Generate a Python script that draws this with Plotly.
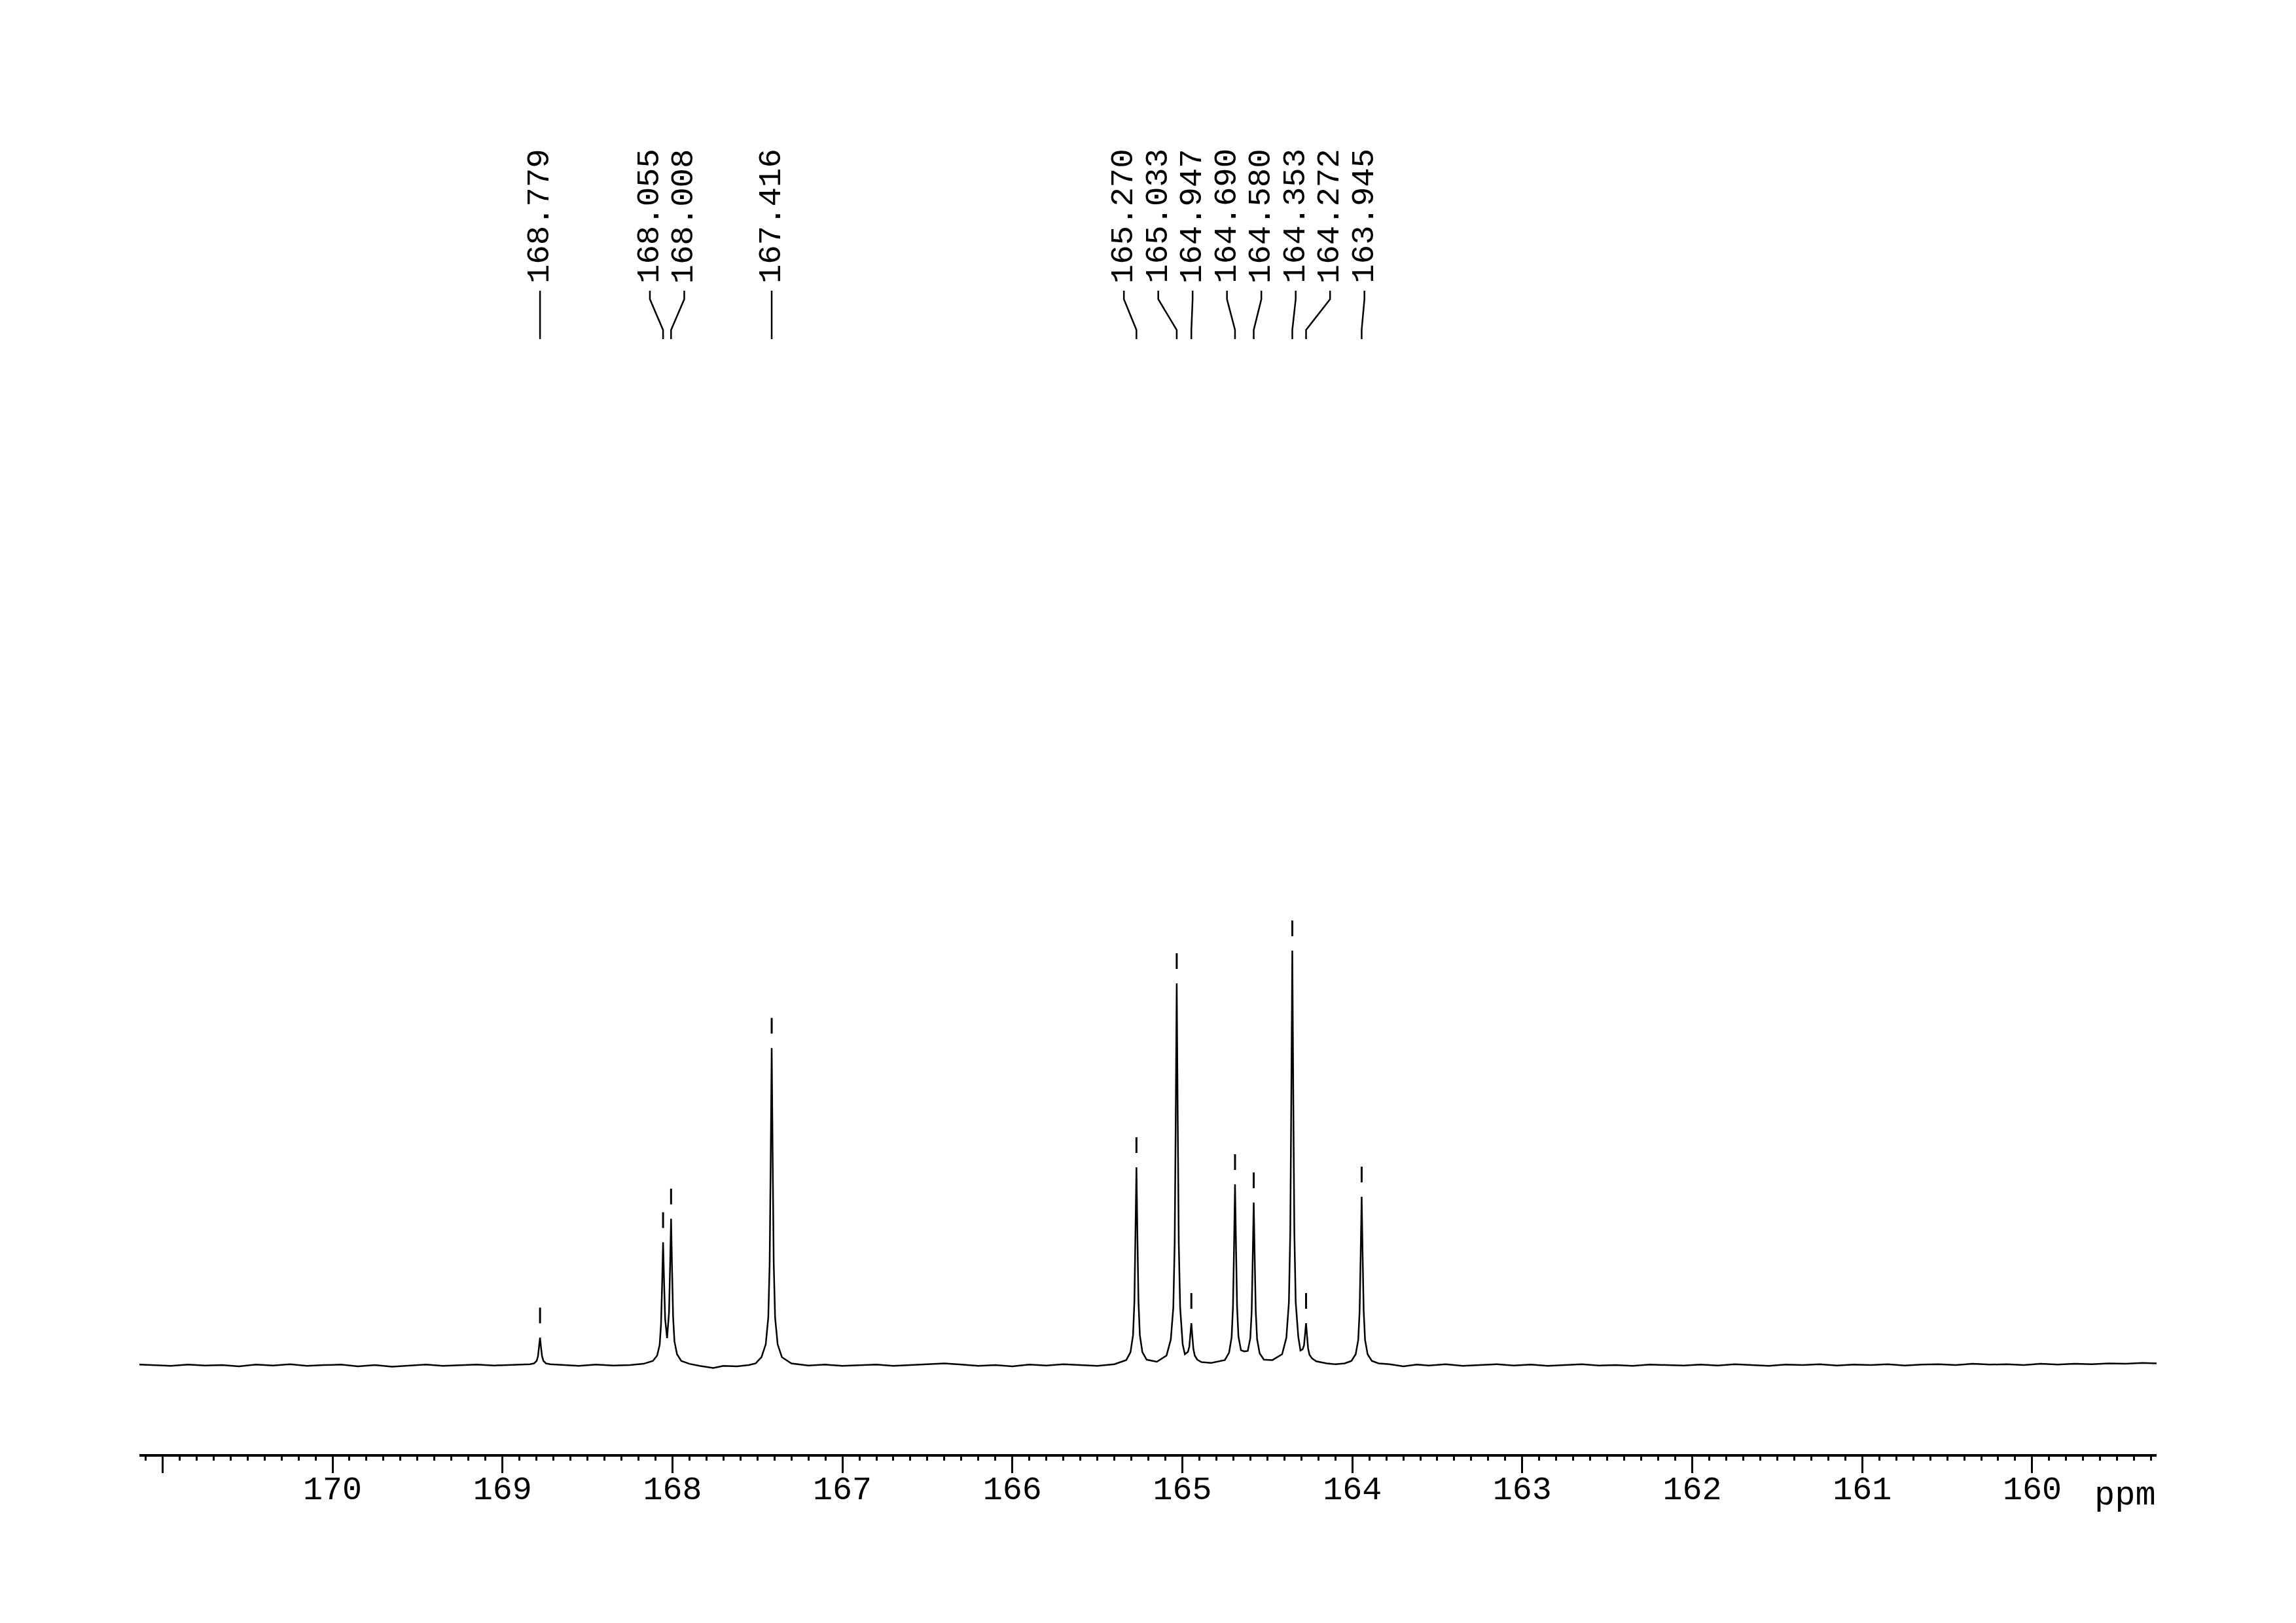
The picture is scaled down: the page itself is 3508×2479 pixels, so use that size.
import plotly.graph_objects as go

# ---------------- data ----------------
peak_ppm = [168.779, 168.055, 168.008, 167.416, 165.270, 165.033,
            164.947, 164.690, 164.580, 164.353, 164.272, 163.945]
peak_height = [6.6, 29.6, 35.3, 76.5, 47.7, 92.1,
               10.1, 43.6, 39.2, 100.0, 10.1, 40.6]

axis_tick_values = [160, 161, 162, 163, 164, 165, 166, 167, 168, 169, 170, 171]
axis_tick_labels = ["160", "161", "162", "163", "164", "165",
                    "166", "167", "168", "169", "170", ""]
axis_unit = "ppm"

trace_ppm = [
    171.136, 171.05, 170.95, 170.85, 170.75, 170.65, 170.55, 170.45, 170.35, 170.25,
    170.15, 170.05, 169.95, 169.85, 169.75, 169.65, 169.55, 169.45, 169.35, 169.25,
    169.15, 169.05, 168.95, 168.88,
    168.839, 168.814, 168.799, 168.791, 168.785, 168.779, 168.773, 168.767, 168.759, 168.744, 168.719,
    168.65, 168.55, 168.45, 168.35, 168.25, 168.17,
    168.115, 168.090, 168.075, 168.067, 168.061, 168.055, 168.049, 168.043, 168.0315,
    168.020, 168.014, 168.008, 168.002, 167.996, 167.988, 167.973, 167.948,
    167.90, 167.84, 167.76, 167.70, 167.62, 167.55, 167.51,
    167.476, 167.451, 167.436, 167.428, 167.422, 167.416, 167.410, 167.404, 167.396, 167.381, 167.356,
    167.30, 167.20, 167.10, 167.00, 166.90, 166.80, 166.70, 166.60, 166.50, 166.40,
    166.30, 166.20, 166.10, 166.00, 165.90, 165.80, 165.70, 165.60, 165.50, 165.40,
    165.330, 165.305, 165.290, 165.282, 165.276, 165.270, 165.264, 165.258, 165.250, 165.235, 165.210, 165.150,
    165.093, 165.068, 165.053, 165.045, 165.039, 165.033, 165.027, 165.021, 165.013, 164.998, 164.985,
    164.967, 164.959, 164.953, 164.947, 164.941, 164.935, 164.927, 164.912, 164.887, 164.83,
    164.750, 164.725, 164.710, 164.702, 164.696, 164.690, 164.684, 164.678, 164.670, 164.655, 164.635,
    164.615, 164.600, 164.592, 164.586, 164.580, 164.574, 164.568, 164.560, 164.545, 164.520, 164.470,
    164.413, 164.388, 164.373, 164.365, 164.359, 164.353, 164.347, 164.341, 164.333, 164.318, 164.305,
    164.292, 164.284, 164.278, 164.272, 164.266, 164.260, 164.252, 164.237, 164.212, 164.150, 164.100,
    164.045, 164.005, 163.980, 163.965, 163.957, 163.951, 163.945, 163.939, 163.933, 163.925, 163.910,
    163.885, 163.845,
    163.78, 163.70, 163.62, 163.55, 163.45, 163.35, 163.25, 163.15, 163.05, 162.95,
    162.85, 162.75, 162.65, 162.55, 162.45, 162.35, 162.25, 162.15, 162.05, 161.95,
    161.85, 161.75, 161.65, 161.55, 161.45, 161.35, 161.25, 161.15, 161.05, 160.95,
    160.85, 160.75, 160.65, 160.55, 160.45, 160.35, 160.25, 160.15, 160.05, 159.95,
    159.85, 159.75, 159.65, 159.55, 159.45, 159.35, 159.268,
]
trace_int = [
    0.1, 0.0, -0.2, 0.1, -0.1, 0.0, -0.3, 0.1, -0.1, 0.2,
    -0.2, 0.0, 0.1, -0.3, 0.0, -0.4, -0.1, 0.1, -0.2, 0.0,
    0.1, -0.1, 0.0, 0.1,
    0.2, 0.4, 1.0, 2.1, 4.2, 6.6, 4.2, 2.1, 1.0, 0.4, 0.2,
    0.0, -0.2, 0.1, -0.1, 0.0, 0.3,
    1.0, 2.3, 4.9, 9.9, 19.0, 29.6, 19.9, 11.2, 6.5,
    12.7, 23.4, 35.3, 22.7, 11.6, 5.7, 2.6, 1.0,
    0.3, -0.2, -0.7, -0.2, -0.3, 0.0, 0.4,
    1.9, 5.0, 11.5, 24.5, 49.0, 76.5, 49.0, 24.5, 11.5, 5.0, 1.9,
    0.4, -0.1, 0.1, -0.2, 0.0, 0.1, -0.2, 0.0, 0.2, 0.4,
    0.1, -0.2, 0.0, -0.3, 0.1, -0.1, 0.2, 0.0, -0.2, 0.2,
    1.2, 3.1, 7.2, 15.3, 30.5, 47.7, 30.5, 15.3, 7.2, 3.1, 1.3, 0.8,
    2.3, 6.1, 13.9, 29.5, 59.0, 92.1, 59.0, 29.6, 14.0, 5.0, 2.6,
    3.2, 4.4, 7.1, 10.1, 6.9, 3.9, 2.3, 1.3, 0.7, 0.5,
    1.2, 3.0, 6.7, 14.1, 28.0, 43.6, 28.1, 14.2, 6.9, 3.6, 3.3,
    3.4, 6.5, 13.0, 25.5, 39.2, 25.4, 12.9, 6.2, 2.8, 1.3, 1.2,
    2.6, 6.6, 15.1, 32.0, 64.0, 100.0, 64.1, 32.1, 15.2, 6.9, 3.5,
    3.8, 4.8, 7.3, 10.1, 6.9, 4.0, 2.5, 1.6, 0.9, 0.4, 0.2,
    0.4, 1.0, 2.6, 6.1, 13.0, 26.0, 40.6, 26.0, 13.0, 6.1, 2.6,
    1.0, 0.4,
    0.2, -0.3, 0.1, -0.1, 0.2, -0.2, 0.0, 0.2, -0.1, 0.1,
    -0.2, 0.0, 0.2, -0.1, 0.0, -0.2, 0.1, 0.0, -0.1, 0.1,
    -0.1, 0.2, 0.0, -0.2, 0.1, 0.0, 0.2, -0.1, 0.1, 0.0,
    0.2, -0.1, 0.1, 0.2, 0.0, 0.3, 0.1, 0.2, 0.0, 0.3,
    0.1, 0.3, 0.2, 0.4, 0.3, 0.5, 0.4,
]

# ---------------- layout geometry (page pixels) ----------------
BODY = 8                      # default page margin around the plot div
PAGE_W, PAGE_H = 3508, 2479
FIG_W, FIG_H = PAGE_W - BODY, PAGE_H - BODY
PLOT_LEFT, PLOT_RIGHT = 213, 3295     # page columns of the axis ends
PLOT_TOP, PLOT_BOTTOM = BODY, 2221    # page rows of the plot area
ML = PLOT_LEFT - BODY
MR = (BODY + FIG_W) - PLOT_RIGHT
MT = PLOT_TOP - BODY
MB = (BODY + FIG_H) - PLOT_BOTTOM
X_LEFT, X_RIGHT = 171.136, 159.268
BASE_ROW = 2085.0          # page row of zero intensity
PX_PER_UNIT = 6.33         # pixels per intensity unit
Y_TOP = (BASE_ROW - PLOT_TOP) / PX_PER_UNIT
Y_BOTTOM = (BASE_ROW - PLOT_BOTTOM) / PX_PER_UNIT
PPM_PER_PX = (X_LEFT - X_RIGHT) / (PLOT_RIGHT - PLOT_LEFT)
PLOT_H = PLOT_BOTTOM - PLOT_TOP


def v_at(row):
    return (BASE_ROW - row) / PX_PER_UNIT


def ppm_to_px(p):
    return PLOT_LEFT + (X_LEFT - p) / PPM_PER_PX


def px_to_ppm(x):
    return X_LEFT - (x - PLOT_LEFT) * PPM_PER_PX


# spread the peak labels (minimum spacing, clusters centred on their peaks)
LABEL_GAP = 52.5
order = sorted(range(len(peak_ppm)), key=lambda i: -peak_ppm[i])
peak_px = {i: ppm_to_px(peak_ppm[i]) for i in order}


def place(cluster):
    c = sum(peak_px[i] for i in cluster) / len(cluster)
    n = len(cluster)
    return [c + (k - (n - 1) / 2) * LABEL_GAP for k in range(n)]


clusters = []
for i in order:
    clusters.append([i])
    while len(clusters) > 1:
        a = place(clusters[-2])
        b = place(clusters[-1])
        if b[0] - a[-1] < LABEL_GAP - 1e-6:
            clusters[-2] = clusters[-2] + clusters[-1]
            clusters.pop()
        else:
            break
label_px = {}
for cl in clusters:
    for i, x in zip(cl, place(cl)):
        label_px[i] = x

fig = go.Figure()

# spectrum
fig.add_trace(go.Scatter(x=trace_ppm, y=trace_int, mode="lines",
                         line=dict(color="black", width=2.5),
                         hoverinfo="skip", showlegend=False))

# peak markers above each peak
GAP_U = 22 / PX_PER_UNIT
LEN_U = 24 / PX_PER_UNIT
mx, my = [], []
for p, h in zip(peak_ppm, peak_height):
    mx += [p, p, None]
    my += [h + GAP_U, h + GAP_U + LEN_U, None]
fig.add_trace(go.Scatter(x=mx, y=my, mode="lines",
                         line=dict(color="black", width=3),
                         hoverinfo="skip", showlegend=False))

# connectors from labels to peaks
cx, cy = [], []
for i in order:
    lx = px_to_ppm(label_px[i])
    p = peak_ppm[i]
    cx += [lx, lx, p, p, None]
    cy += [v_at(444), v_at(457), v_at(504), v_at(518), None]
fig.add_trace(go.Scatter(x=cx, y=cy, mode="lines",
                         line=dict(color="black", width=2.5),
                         hoverinfo="skip", showlegend=False))

annotations = []
for i in order:
    annotations.append(dict(
        x=px_to_ppm(label_px[i]), y=v_at(434), xref="x", yref="y",
        text=f"{peak_ppm[i]:.3f}", textangle=-90, showarrow=False,
        xanchor="center", yanchor="bottom", borderpad=0,
        font=dict(family="Liberation Mono", size=49, color="black")))

annotations.append(dict(
    x=X_RIGHT, y=(PLOT_BOTTOM - 2284) / PLOT_H, xref="x", yref="paper",
    text=axis_unit, showarrow=False, xanchor="right", yanchor="middle",
    borderpad=0, font=dict(family="Liberation Mono", size=52, color="black")))

fig.update_layout(
    width=FIG_W, height=FIG_H,
    margin=dict(l=ML, r=MR, t=MT, b=MB, pad=0),
    paper_bgcolor="white", plot_bgcolor="white",
    showlegend=False,
    annotations=annotations,
    xaxis=dict(
        range=[X_LEFT, X_RIGHT], showgrid=False, zeroline=False,
        showline=True, linecolor="black", linewidth=4,
        ticks="outside", ticklen=25, tickwidth=3, tickcolor="black",
        tickmode="array", tickvals=axis_tick_values, ticktext=axis_tick_labels,
        tickfont=dict(family="Liberation Mono", size=50, color="black"),
        ticklabelstandoff=-20,
        minor=dict(ticks="outside", ticklen=6, tickwidth=3, tickcolor="black",
                   tick0=160, dtick=0.1, showgrid=False),
    ),
    yaxis=dict(range=[Y_BOTTOM, Y_TOP], visible=False, showgrid=False, zeroline=False),
)

fig.write_html("out.html")
